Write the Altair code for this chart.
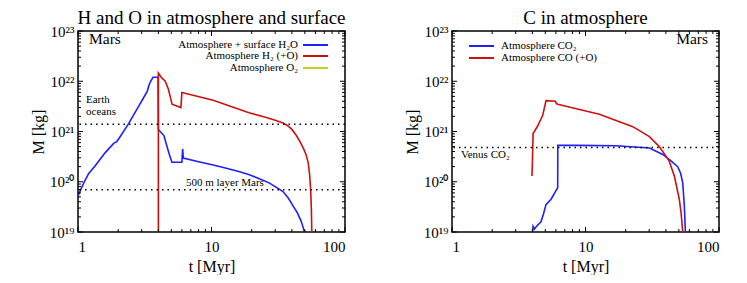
import altair as alt
import pandas as pd

# ---------------- data ----------------
# Left panel: H and O in atmosphere and surface
h2o_t = [1.0, 1.1, 1.2, 1.35, 1.6, 1.85, 1.95, 2.05, 2.4, 2.85, 3.1, 3.3, 3.4, 3.5, 3.65, 3.98,
         4.0, 4.4, 4.8, 5.05, 6.0, 6.08, 6.15, 8.0, 10.3, 12.9, 16.0, 19.0, 22.8, 27.0, 30.4, 34.3,
         37.5, 40.8, 44.0, 46.9, 48.5, 49.6]
h2o_m = [5.2e19, 9.3e19, 1.45e20, 2.1e20, 3.8e20, 5.8e20, 6.3e20, 7.6e20, 1.45e21, 3.2e21, 4.7e21,
         6.3e21, 8.3e21, 1.0e22, 1.2e22, 1.2e22,
         1.1e21, 8.3e20, 3.7e20, 2.45e20, 2.45e20, 4.5e20, 2.95e20, 2.5e20, 2.15e20, 1.85e20, 1.6e20,
         1.4e20, 1.15e20, 9.5e19, 7.8e19, 6.4e19, 4.8e19, 3.3e19, 2.4e19, 1.65e19, 1.25e19, 1.0e19]

h2_t = [4.0, 4.0, 4.2, 4.5, 4.75, 4.95, 5.06, 5.9, 6.0, 10.3, 19.1, 25.0, 30.0, 34.0, 37.0, 40.0,
        43.0, 46.0, 49.0, 51.0, 53.0, 54.3, 55.3, 56.0, 56.4]
h2_m = [1.0e19, 1.45e22, 1.2e22, 1.0e22, 7.0e21, 4.5e21, 3.5e21, 3.0e21, 6.0e21, 4.2e21, 2.35e21,
        1.95e21, 1.68e21, 1.5e21, 1.32e21, 1.1e21, 8.5e20, 6.3e20, 4.5e20, 3.5e20, 2.4e20, 1.4e20,
        7.1e19, 2.8e19, 1.0e19]

o2_t = []
o2_m = []

# Right panel: C in atmosphere
co2_t = [4.02, 4.05, 4.15, 4.3, 4.64, 4.85, 5.06, 5.52, 6.0, 6.19, 6.2, 8.5, 16.9, 30.1, 37.9, 43.7,
         49.0, 51.5, 53.5, 55.0, 56.0]
co2_m = [1.0e19, 1.3e19, 1.15e19, 1.3e19, 1.6e19, 2.3e19, 3.5e19, 4.5e19, 6.6e19, 7.6e19, 5.3e20,
         5.3e20, 5.2e20, 4.7e20, 3.5e20, 2.6e20, 2.0e20, 1.5e20, 9.5e19, 3.3e19, 1.0e19]

co_t = [3.97, 4.0, 4.05, 4.39, 4.78, 5.06, 5.95, 6.05, 6.19, 12.7, 22.6, 30.1, 35.7, 42.3, 46.3,
        50.4, 52.0, 53.5]
co_m = [1.3e20, 2.3e20, 9.1e20, 1.3e21, 2.1e21, 4.1e21, 4.0e21, 3.6e21, 3.5e21, 2.2e21, 1.25e21,
        7.9e20, 5.0e20, 2.6e20, 1.3e20, 4.5e19, 2.4e19, 1.0e19]

# reference levels
earth_oceans = [1.4e21]
mars_500m = [6.9e19]
venus_co2 = [4.8e20]

# legend names / colours
left_names = ["Atmosphere + surface H\u2082O", "Atmosphere H\u2082 (+O)", "Atmosphere O\u2082"]
left_colors = ["#1f1fff", "#cc1111", "#cccc22"]
right_names = ["Atmosphere CO\u2082", "Atmosphere CO (+O)"]
right_colors = ["#1f1fff", "#cc1111"]

# axis ticks
x_major = [1, 10, 100]
x_minor = [2, 3, 4, 5, 6, 7, 8, 9, 20, 30, 40, 50, 60, 70, 80, 90]
y_major = [1e19, 1e20, 1e21, 1e22, 1e23]
y_minor = [k * 10.0 ** e for e in (19, 20, 21, 22) for k in (2, 3, 4, 5, 6, 7, 8, 9)]
y_exp_labels = ["\u00b9\u2079", "\u00b2\u2070", "\u00b2\u00b9", "\u00b2\u00b2", "\u00b2\u00b3"]

# ---------------- chart ----------------
W, H = 267, 201
FONT = "Liberation Serif"
MAJ, MIN = 5, 3

xscale = alt.Scale(type="log", domain=[1, 100], nice=False)
yscale = alt.Scale(type="log", domain=[1e19, 1e23], nice=False)

arr = "[" + ",".join("'%s'" % s for s in y_exp_labels) + "]"
xaxis = alt.Axis(values=x_major, labelExpr="format(datum.value, 'd')", title="t [Myr]",
                 labelPadding=7, titlePadding=4)
yaxis = alt.Axis(values=y_major, labelExpr="'10' + %s[round(log(datum.value)/LN10) - 19]" % arr,
                 title="M [kg]", labelPadding=4, titlePadding=3)


def lines_df(names, ts, ms):
    rows = []
    for n, t, m in zip(names, ts, ms):
        for i, (a, b) in enumerate(zip(t, m)):
            rows.append({"t": a, "M": b, "series": n, "order": i})
    return pd.DataFrame(rows, columns=["t", "M", "series", "order"])


def one():
    return pd.DataFrame({"k": [0]})


def tick_layers():
    layers = []
    for vals, L in ((x_major, MAJ), (x_minor, MIN)):
        d = pd.DataFrame({"t": vals})
        base = alt.Chart(d).mark_rule(color="black", strokeWidth=1)
        layers.append(base.encode(x=alt.X("t:Q", scale=xscale), y=alt.value(H), y2=alt.value(H - L)))
        layers.append(base.encode(x=alt.X("t:Q", scale=xscale), y=alt.value(0), y2=alt.value(L)))
    for vals, L in ((y_major, MAJ), (y_minor, MIN)):
        d = pd.DataFrame({"M": vals})
        base = alt.Chart(d).mark_rule(color="black", strokeWidth=1)
        layers.append(base.encode(y=alt.Y("M:Q", scale=yscale), x=alt.value(0), x2=alt.value(L)))
        layers.append(base.encode(y=alt.Y("M:Q", scale=yscale), x=alt.value(W - L), x2=alt.value(W)))
    return layers


def text(label, x, y, align="left", size=11):
    return alt.Chart(one()).mark_text(font=FONT, fontSize=size, align=align, baseline="middle",
                                      color="black").encode(
        x=alt.value(x), y=alt.value(y), text=alt.value(label))


def legend_row(label, color, y, sym_x1, sym_x2, text_x, align):
    sym = alt.Chart(one()).mark_rule(color=color, strokeWidth=2).encode(
        x=alt.value(sym_x1), x2=alt.value(sym_x2), y=alt.value(y))
    return [sym, text(label, text_x, y, align=align, size=11)]


def hline(vals):
    return alt.Chart(pd.DataFrame({"M": vals})).mark_rule(
        color="black", strokeWidth=1.5, strokeDash=[1.5, 4]).encode(y=alt.Y("M:Q", scale=yscale))


def panel(title, names, colors, ts, ms, extras):
    df = lines_df(names, ts, ms)
    lines = alt.Chart(df).mark_line(clip=True, strokeWidth=1.6).encode(
        x=alt.X("t:Q", scale=xscale, axis=xaxis),
        y=alt.Y("M:Q", scale=yscale, axis=yaxis),
        color=alt.Color("series:N", scale=alt.Scale(domain=names, range=colors), legend=None),
        detail="series:N",
        order="order:Q",
    )
    return alt.layer(lines, *extras, *tick_layers()).properties(
        width=W, height=H,
        title=alt.TitleParams(title, font=FONT, fontSize=19, fontWeight="normal", color="black",
                              anchor="middle", offset=-4),
    )


left_extras = [hline(earth_oceans), hline(mars_500m),
               text("Mars", 11, 8, size=15.5),
               alt.Chart(one()).mark_text(font=FONT, fontSize=11, align="left", baseline="middle",
                                          lineBreak="\n", lineHeight=12).encode(
                   x=alt.value(8), y=alt.value(69), text=alt.value("Earth\noceans")),
               text("500 m layer Mars", 108, 152)]
for i, (n, c) in enumerate(zip(left_names, left_colors)):
    left_extras += legend_row(n, c, [14, 25, 37][i], 225, 250, 220, "right")

right_extras = [hline(venus_co2),
                text("Mars", 256, 8, align="right", size=15.5),
                text("Venus CO\u2082", 9, 124)]
for i, (n, c) in enumerate(zip(right_names, right_colors)):
    right_extras += legend_row(n, c, [15, 27][i], 17, 42, 49, "left")

left = panel("H and O in atmosphere and surface", left_names, left_colors,
             [h2o_t, h2_t, o2_t], [h2o_m, h2_m, o2_m], left_extras)
right = panel("C in atmosphere", right_names, right_colors,
              [co2_t, co_t], [co2_m, co_m], right_extras)

chart = alt.hconcat(left, right, spacing=56).properties(
    padding={"left": 21, "top": 0, "right": 0, "bottom": 0}
).configure(background="white").configure_view(
    stroke="black", strokeWidth=1.5
).configure_axis(
    domain=False, ticks=False, grid=False, labelFont=FONT, labelFontSize=15, labelColor="black",
    titleFont=FONT, titleFontSize=16, titleFontWeight="normal", titleColor="black",
)

chart.save("out.html", embed_options={"renderer": "svg", "actions": False})
